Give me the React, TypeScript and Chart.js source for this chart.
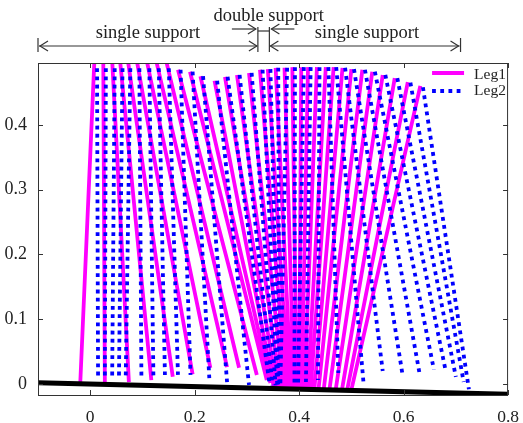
import React, { useEffect, useRef } from "react";
import { Chart, registerables } from "chart.js";

Chart.register(...registerables);

// ---- data ----
const leg1HipX = [0.008, 0.025, 0.042, 0.057, 0.072, 0.089, 0.108, 0.126, 0.145, 0.168, 0.191, 0.211, 0.238, 0.258, 0.281, 0.304, 0.325, 0.340, 0.355, 0.372, 0.387, 0.404, 0.417, 0.434, 0.451, 0.466, 0.483, 0.500, 0.521, 0.540, 0.560, 0.583, 0.608, 0.632];
const leg1HipY = [0.5, 0.5, 0.5, 0.5, 0.5, 0.5, 0.5, 0.5, 0.5, 0.485, 0.482, 0.475, 0.468, 0.474, 0.477, 0.480, 0.485, 0.486, 0.488, 0.488, 0.489, 0.489, 0.489, 0.489, 0.489, 0.489, 0.488, 0.486, 0.485, 0.482, 0.477, 0.472, 0.466, 0.460];
const leg1FootX = [-0.019, 0.028, 0.074, 0.117, 0.158, 0.196, 0.230, 0.262, 0.285, 0.319, 0.338, 0.345, 0.352, 0.358, 0.364, 0.370, 0.375, 0.380, 0.385, 0.390, 0.395, 0.400, 0.405, 0.410, 0.416, 0.422, 0.429, 0.437, 0.447, 0.458, 0.470, 0.482, 0.492, 0.500];
const leg1FootY = [0.003, 0.003, 0.003, 0.006, 0.011, 0.015, 0.025, 0.026, 0.025, 0.014, 0.006, 0.0015, -0.007, -0.007, -0.007, -0.007, -0.007, -0.007, -0.007, -0.007, -0.007, -0.007, -0.007, -0.009, -0.009, -0.009, -0.009, -0.009, -0.009, -0.009, -0.009, -0.009, -0.009, -0.009];

const leg2HipX = [0.013, 0.030, 0.047, 0.062, 0.077, 0.094, 0.113, 0.131, 0.150, 0.173, 0.196, 0.216, 0.243, 0.263, 0.286, 0.309, 0.330, 0.345, 0.360, 0.377, 0.392, 0.409, 0.422, 0.439, 0.456, 0.471, 0.488, 0.505, 0.526, 0.545, 0.565, 0.588, 0.613, 0.637];
const leg2HipY = [0.5, 0.5, 0.5, 0.5, 0.5, 0.5, 0.5, 0.5, 0.5, 0.485, 0.482, 0.475, 0.468, 0.474, 0.477, 0.480, 0.485, 0.486, 0.488, 0.488, 0.489, 0.489, 0.489, 0.489, 0.489, 0.489, 0.488, 0.486, 0.485, 0.482, 0.477, 0.472, 0.465, 0.458];
const leg2FootX = [0.015, 0.028, 0.042, 0.055, 0.068, 0.098, 0.121, 0.143, 0.168, 0.192, 0.228, 0.262, 0.304, 0.343, 0.349, 0.355, 0.358, 0.360, 0.362, 0.364, 0.391, 0.398, 0.413, 0.436, 0.475, 0.523, 0.560, 0.598, 0.630, 0.658, 0.681, 0.700, 0.715, 0.725];
const leg2FootY = [0.011, 0.011, 0.011, 0.011, 0.011, 0.011, 0.009, 0.014, 0.014, 0.014, 0.009, 0.003, -0.0015, 0.0015, -0.002, -0.002, -0.002, -0.002, -0.002, -0.002, 0.0, 0.0, 0.003, 0.006, 0.017, 0.004, 0.02, 0.014, 0.0185, 0.022, 0.0185, 0.011, 0.003, -0.008];

const groundX = [-0.1, 0.8];
const groundY = [0.002, -0.016];

const xTicks = [0, 0.2, 0.4, 0.6, 0.8];
const xTickLabels = ["0", "0.2", "0.4", "0.6", "0.8"];
const yTicks = [0, 0.1, 0.2, 0.3, 0.4];
const yTickLabels = ["0", "0.1", "0.2", "0.3", "0.4"];

const phaseBounds = [-0.1, 0.321, 0.343, 0.709];
const phaseLabels = ["single support", "double support", "single support"];
const legendLabels = ["Leg1", "Leg2"];

const FONT = '"Liberation Serif", "Times New Roman", serif';
const TEXT = "#222";
const MAGENTA = "#ff00ff";
const BLUE = "#0000ff";
const DASH = [3.8, 4.4];
const LW = 3.8;

function legSegments(hx: number[], hy: number[], fx: number[], fy: number[]) {
  const pts: { x: number; y: number }[] = [];
  hx.forEach((_, i) => {
    pts.push({ x: hx[i], y: hy[i] }, { x: fx[i], y: fy[i] }, { x: NaN, y: NaN });
  });
  return pts;
}

function arrowHead(ctx: CanvasRenderingContext2D, x: number, y: number, dir: number) {
  ctx.beginPath();
  ctx.moveTo(x - dir * 8, y - 5);
  ctx.lineTo(x, y);
  ctx.lineTo(x - dir * 8, y + 5);
  ctx.stroke();
}

function line(ctx: CanvasRenderingContext2D, x1: number, y1: number, x2: number, y2: number) {
  ctx.beginPath();
  ctx.moveTo(x1, y1);
  ctx.lineTo(x2, y2);
  ctx.stroke();
}

const decorPlugin = {
  id: "decor",
  afterDatasetsDraw(chart: any) {
    const { ctx, chartArea: a, scales } = chart;
    const xs = scales.x;
    const ys = scales.y;
    ctx.save();
    // frame
    ctx.strokeStyle = "#333";
    ctx.lineWidth = 1;
    ctx.strokeRect(a.left + 0.5, a.top + 0.5, a.right - a.left - 1, a.bottom - a.top);
    // inward ticks
    ctx.beginPath();
    xTicks.forEach((v) => {
      const p = Math.round(xs.getPixelForValue(v)) + 0.5;
      ctx.moveTo(p, a.top);
      ctx.lineTo(p, a.top + 5);
      ctx.moveTo(p, a.bottom);
      ctx.lineTo(p, a.bottom - 5);
    });
    yTicks.forEach((v) => {
      const p = Math.round(ys.getPixelForValue(v)) + 0.5;
      ctx.moveTo(a.left, p);
      ctx.lineTo(a.left + 5, p);
      ctx.moveTo(a.right, p);
      ctx.lineTo(a.right - 5, p);
    });
    ctx.stroke();

    // legend
    const lx1 = a.right - 76;
    const lx2 = a.right - 44;
    ctx.lineWidth = LW;
    ctx.lineCap = "butt";
    ctx.strokeStyle = MAGENTA;
    line(ctx, lx1, a.top + 10, lx2, a.top + 10);
    ctx.strokeStyle = BLUE;
    ctx.setLineDash(DASH);
    line(ctx, lx1, a.top + 28, lx2, a.top + 28);
    ctx.setLineDash([]);
    ctx.fillStyle = TEXT;
    ctx.font = `15.5px ${FONT}`;
    ctx.textAlign = "left";
    ctx.textBaseline = "alphabetic";
    ctx.fillText(legendLabels[0], a.right - 34, a.top + 16);
    ctx.fillText(legendLabels[1], a.right - 34, a.top + 32);

    // phase annotations
    const bx = phaseBounds.map((v) => xs.getPixelForValue(v));
    ctx.strokeStyle = "#333";
    ctx.lineWidth = 1.2;
    const ay = a.top - 17;
    line(ctx, bx[0], a.top - 25, bx[0], a.top - 11);
    line(ctx, bx[3], a.top - 25, bx[3], a.top - 11);
    line(ctx, bx[1], a.top - 36, bx[1], a.top - 11);
    line(ctx, bx[2], a.top - 36, bx[2], a.top - 11);
    line(ctx, bx[1], a.top - 32, bx[2], a.top - 32);
    line(ctx, bx[0] + 1, ay, bx[1] - 1, ay);
    arrowHead(ctx, bx[0] + 2, ay, -1);
    arrowHead(ctx, bx[1] - 1, ay, 1);
    line(ctx, bx[2] + 1, ay, bx[3] - 1, ay);
    arrowHead(ctx, bx[2] + 1, ay, -1);
    arrowHead(ctx, bx[3] - 2, ay, 1);
    const sy = a.top - 34;
    line(ctx, bx[1] - 26, sy, bx[1] - 2, sy);
    arrowHead(ctx, bx[1] - 2, sy, 1);
    line(ctx, bx[2] + 25, sy, bx[2] + 2, sy);
    arrowHead(ctx, bx[2] + 2, sy, -1);

    ctx.fillStyle = TEXT;
    ctx.font = `18.5px ${FONT}`;
    ctx.textAlign = "center";
    ctx.textBaseline = "alphabetic";
    ctx.fillText(phaseLabels[0], (bx[0] + bx[1]) / 2, a.top - 25);
    ctx.fillText(phaseLabels[2], (bx[2] + bx[3]) / 2 + 2, a.top - 25);
    ctx.fillText(phaseLabels[1], (bx[1] + bx[2]) / 2 + 5, a.top - 42);
    ctx.restore();
  },
};

export default function App() {
  const ref = useRef<HTMLCanvasElement | null>(null);
  useEffect(() => {
    if (!ref.current) return;
    const chart = new Chart(ref.current, {
      type: "scatter",
      data: {
        datasets: [
          {
            label: "ground",
            data: groundX.map((x, i) => ({ x, y: groundY[i] })),
            showLine: true,
            borderColor: "#000",
            borderWidth: 5,
            pointRadius: 0,
            order: 0,
            clip: 0,
          } as any,
          {
            label: legendLabels[1],
            data: legSegments(leg2HipX, leg2HipY, leg2FootX, leg2FootY),
            showLine: true,
            borderColor: BLUE,
            borderWidth: LW,
            borderDash: DASH,
            borderCapStyle: "butt",
            pointRadius: 0,
            spanGaps: false,
            order: 1,
            clip: 0,
          } as any,
          {
            label: legendLabels[0],
            data: legSegments(leg1HipX, leg1HipY, leg1FootX, leg1FootY),
            showLine: true,
            borderColor: MAGENTA,
            borderWidth: LW,
            borderCapStyle: "butt",
            pointRadius: 0,
            spanGaps: false,
            order: 2,
            clip: 0,
          } as any,
        ],
      },
      options: {
        animation: false,
        responsive: false,
        devicePixelRatio: 1,
        events: [],
        layout: { padding: { top: 63, right: 7, left: 0, bottom: 0 } },
        plugins: { legend: { display: false }, tooltip: { enabled: false } },
        scales: {
          x: {
            type: "linear",
            min: -0.1,
            max: 0.8,
            afterBuildTicks: (s: any) => {
              s.ticks = xTicks.map((v) => ({ value: v }));
            },
            afterFit: (s: any) => {
              s.height = 28;
            },
            grid: { display: false },
            border: { display: false },
            ticks: {
              padding: 4,
              color: TEXT,
              autoSkip: false,
              maxRotation: 0,
              font: { family: FONT, size: 17.5 },
              callback: (_v: any, i: number) => xTickLabels[i],
            },
          },
          y: {
            type: "linear",
            min: -0.017,
            max: 0.4954,
            afterBuildTicks: (s: any) => {
              s.ticks = yTicks.map((v) => ({ value: v }));
            },
            afterFit: (s: any) => {
              s.width = 38;
            },
            grid: { display: false },
            border: { display: false },
            ticks: {
              padding: 3,
              color: TEXT,
              autoSkip: false,
              font: { family: FONT, size: 18 },
              callback: (_v: any, i: number) => yTickLabels[i],
            },
          },
        },
      } as any,
      plugins: [decorPlugin as any],
    });
    return () => chart.destroy();
  }, []);
  return (
    <canvas
      ref={ref}
      width={523}
      height={423}
      style={{ position: "fixed", left: 0, top: 0, width: 523, height: 423, display: "block" }}
    />
  );
}
